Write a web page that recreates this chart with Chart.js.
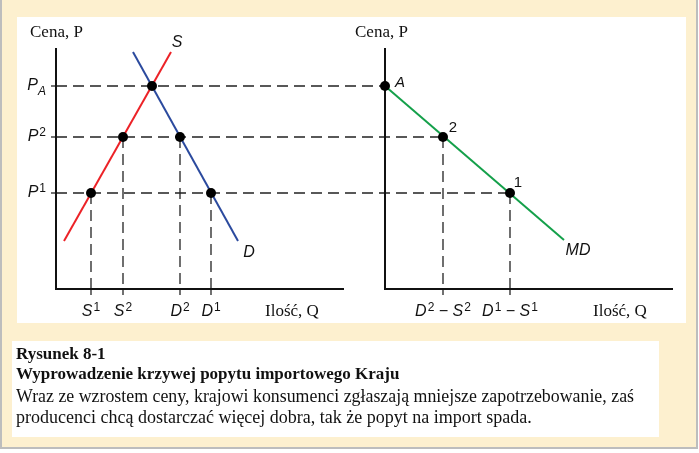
<!DOCTYPE html>
<html><head><meta charset="utf-8">
<script src="https://cdn.jsdelivr.net/npm/chart.js@4/dist/chart.umd.min.js"></script>
<style>html,body{margin:0;padding:0;background:#fff;overflow:hidden}canvas{display:block}</style>
</head><body>
<canvas id="c" width="699" height="453"></canvas>
<script>
// ---- data ----
const priceLabels = ['P_A', 'P^2', 'P^1'];
const priceValues = [20.3, 15.2, 9.6];
const supplyQty = [9.6, 6.7, 3.5];
const demandQty = [9.6, 12.4, 15.5];
const importQty = [0, 5.8, 12.5];
const importPointLabels = ['A', '2', '1'];
const leftTickLabels = ['S^1', 'S^2', 'D^2', 'D^1'];
const leftTickValues = [3.5, 6.7, 12.4, 15.5];
const rightTickLabels = ['D^2 − S^2', 'D^1 − S^1'];
const rightTickValues = [5.8, 12.5];
const supplyLineQ = [0.8, 11.5];
const supplyLineP = [4.8, 23.7];
const demandLineQ = [7.7, 18.2];
const demandLineP = [23.7, 4.8];
const importLineQ = [0, 17.9];
const importLineP = [20.3, 4.9];
const axisMaxQ = 28.8;
const axisMaxP = 24.1;
const curveNames = ['S', 'D', 'MD'];
const axisTitles = ['Cena, P', 'Ilość, Q'];
const titleLines = ['Rysunek 8-1', 'Wyprowadzenie krzywej popytu importowego Kraju'];
const captionLines = ['Wraz ze wzrostem ceny, krajowi konsumenci zgłaszają mniejsze zapotrzebowanie, zaś',
                      'producenci chcą dostarczać więcej dobra, tak że popyt na import spada.'];

const RED = '#EC2227', BLUE = '#2B4A9E', GREEN = '#14A04A';
const SERIF = '"Liberation Serif", "Times New Roman", serif';
const SANS = '"Liberation Sans", Arial, sans-serif';

const pts = (qs, ps) => qs.map((q, i) => ({x: q, y: ps[i]}));

function drawRich(ctx, str, x, y, align, size) {
  const segs = [];
  for (let i = 0; i < str.length; i++) {
    const ch = str[i];
    if (ch === '^' || ch === '_') { segs.push({t: str[i + 1], k: ch}); i++; }
    else if (segs.length && segs[segs.length - 1].k === 'n') segs[segs.length - 1].t += ch;
    else segs.push({t: ch, k: 'n'});
  }
  const fontFor = s => s.k === 'n' ? `italic ${size}px ${SANS}` : (s.k === '^' ? `${Math.round(size * 0.75)}px ${SANS}` : `italic ${Math.round(size * 0.75)}px ${SANS}`);
  let w = 0;
  segs.forEach(s => { ctx.font = fontFor(s); s.w = ctx.measureText(s.t).width + (s.k === '^' ? 1 : 0); w += s.w; });
  let cx = align === 'center' ? x - w / 2 : (align === 'right' ? x - w : x);
  ctx.textAlign = 'left'; ctx.textBaseline = 'middle';
  segs.forEach(s => {
    ctx.font = fontFor(s);
    const dy = s.k === '^' ? -size * 0.3 : (s.k === '_' ? size * 0.35 : 0);
    ctx.fillText(s.t, cx + (s.k === '^' ? 1 : 0), y + dy);
    cx += s.w;
  });
}

const diagram = {
  id: 'diagram',
  beforeDraw(chart) {
    const ctx = chart.ctx;
    ctx.save();
    ctx.fillStyle = '#ffffff'; ctx.fillRect(0, 0, 699, 453);
    ctx.fillStyle = '#FDF0CF'; ctx.fillRect(1, 0, 696, 448);
    ctx.strokeStyle = '#BDBDBD'; ctx.lineWidth = 2;
    ctx.beginPath(); ctx.moveTo(1, 0); ctx.lineTo(1, 448); ctx.lineTo(697, 448); ctx.lineTo(697, 0); ctx.stroke();
    ctx.fillStyle = '#ffffff';
    ctx.fillRect(17, 17, 669, 306);
    ctx.fillRect(12, 341, 647, 96);
    ctx.restore();
  },
  beforeDatasetsDraw(chart) {
    const ctx = chart.ctx, xL = chart.scales.xL, xR = chart.scales.xR, y = chart.scales.y;
    ctx.save();
    // dashed guide lines
    ctx.strokeStyle = '#222'; ctx.lineWidth = 1.3; ctx.setLineDash([11, 6]);
    priceValues.forEach((p, i) => {
      ctx.beginPath();
      ctx.moveTo(xL.getPixelForValue(0), y.getPixelForValue(p));
      ctx.lineTo(xR.getPixelForValue(importQty[i]), y.getPixelForValue(p));
      ctx.stroke();
    });
    const vert = (scale, q, p) => {
      ctx.beginPath();
      ctx.moveTo(scale.getPixelForValue(q), y.getPixelForValue(p));
      ctx.lineTo(scale.getPixelForValue(q), y.getPixelForValue(0));
      ctx.stroke();
    };
    [1, 2].forEach(i => { vert(xL, supplyQty[i], priceValues[i]); vert(xL, demandQty[i], priceValues[i]); vert(xR, importQty[i], priceValues[i]); });
    ctx.setLineDash([]);
    // axes
    ctx.strokeStyle = '#111'; ctx.lineWidth = 2;
    [xL, xR].forEach(s => {
      ctx.beginPath();
      ctx.moveTo(s.getPixelForValue(0), y.getPixelForValue(axisMaxP));
      ctx.lineTo(s.getPixelForValue(0), y.getPixelForValue(0));
      ctx.lineTo(s.getPixelForValue(axisMaxQ), y.getPixelForValue(0));
      ctx.stroke();
    });
    // ticks
    ctx.lineWidth = 1.2;
    const y0 = y.getPixelForValue(0);
    priceValues.forEach(p => {
      const py = y.getPixelForValue(p), px = xL.getPixelForValue(0);
      ctx.beginPath(); ctx.moveTo(px - 5, py); ctx.lineTo(px, py); ctx.stroke();
    });
    leftTickValues.forEach(q => { const px = xL.getPixelForValue(q); ctx.beginPath(); ctx.moveTo(px, y0); ctx.lineTo(px, y0 + 6); ctx.stroke(); });
    rightTickValues.forEach(q => { const px = xR.getPixelForValue(q); ctx.beginPath(); ctx.moveTo(px, y0); ctx.lineTo(px, y0 + 6); ctx.stroke(); });
    ctx.restore();
  },
  afterDatasetsDraw(chart) {
    const ctx = chart.ctx, xL = chart.scales.xL, xR = chart.scales.xR, y = chart.scales.y;
    ctx.save();
    ctx.fillStyle = '#111';
    const y0 = y.getPixelForValue(0);
    // price labels
    priceValues.forEach((p, i) => drawRich(ctx, priceLabels[i], xL.getPixelForValue(0) - 10, y.getPixelForValue(p), 'right', 16));
    // tick labels
    leftTickValues.forEach((q, i) => drawRich(ctx, leftTickLabels[i], xL.getPixelForValue(q), y0 + 23, 'center', 16));
    rightTickValues.forEach((q, i) => drawRich(ctx, rightTickLabels[i], xR.getPixelForValue(q), y0 + 23, 'center', 16));
    // curve names
    drawRich(ctx, curveNames[0], xL.getPixelForValue(supplyLineQ[1]) + 6, y.getPixelForValue(supplyLineP[1]) - 9, 'center', 16);
    drawRich(ctx, curveNames[1], xL.getPixelForValue(demandLineQ[1]) + 11, y.getPixelForValue(demandLineP[1]) + 12, 'center', 16);
    drawRich(ctx, curveNames[2], xR.getPixelForValue(importLineQ[1]) + 14, y.getPixelForValue(importLineP[1]) + 11, 'center', 16);
    // import point labels
    const offs = [[15, -3], [10, -9], [8, -10]];
    importQty.forEach((q, i) => {
      ctx.font = (i === 0 ? 'italic ' : '') + `15px ${SANS}`; ctx.textAlign = 'center'; ctx.textBaseline = 'middle';
      ctx.fillText(importPointLabels[i], xR.getPixelForValue(q) + offs[i][0], y.getPixelForValue(priceValues[i]) + offs[i][1]);
    });
    // axis titles
    ctx.font = `17px ${SERIF}`; ctx.textBaseline = 'middle'; ctx.textAlign = 'left';
    ctx.fillText(axisTitles[0], 30, 33);
    ctx.fillText(axisTitles[0], 355, 33);
    ctx.fillText(axisTitles[1], 265, 312);
    ctx.fillText(axisTitles[1], 593, 312);
    // caption
    ctx.font = `bold 17px ${SERIF}`;
    ctx.fillText(titleLines[0], 16, 355);
    ctx.fillText(titleLines[1], 16, 375, 392);
    ctx.font = `18px ${SERIF}`;
    ctx.fillText(captionLines[0], 16, 397, 618);
    ctx.fillText(captionLines[1], 16, 418);
    ctx.restore();
  }
};

const lineDs = (data, color, axis) => ({data, xAxisID: axis, order: 2, showLine: true, borderColor: color, borderWidth: 2, pointRadius: 0, fill: false, tension: 0});
const dotDs = (data, axis) => ({data, xAxisID: axis, order: 0, showLine: false, pointRadius: 5, pointBackgroundColor: '#000', pointBorderColor: '#000', pointBorderWidth: 0});

const leftDots = [
  {x: supplyQty[0], y: priceValues[0]},
  {x: supplyQty[1], y: priceValues[1]}, {x: supplyQty[2], y: priceValues[2]},
  {x: demandQty[1], y: priceValues[1]}, {x: demandQty[2], y: priceValues[2]}
];
const rightDots = importQty.map((q, i) => ({x: q, y: priceValues[i]}));

new Chart(document.getElementById('c'), {
  type: 'scatter',
  data: {datasets: [
    lineDs(pts(supplyLineQ, supplyLineP), RED, 'xL'),
    lineDs(pts(demandLineQ, demandLineP), BLUE, 'xL'),
    lineDs(pts(importLineQ, importLineP), GREEN, 'xR'),
    dotDs(leftDots, 'xL'),
    dotDs(rightDots, 'xR')
  ]},
  options: {
    responsive: false, animation: false, devicePixelRatio: 1,
    layout: {padding: 0, autoPadding: false},
    plugins: {legend: {display: false}, tooltip: {enabled: false}},
    scales: {
      xL: {type: 'linear', axis: 'x', display: false, min: -5.6, max: 64.3},
      xR: {type: 'linear', axis: 'x', display: false, min: -38.5, max: 31.4},
      y: {type: 'linear', display: false, min: -16.4, max: 28.9}
    }
  },
  plugins: [diagram]
});
</script>
</body></html>
